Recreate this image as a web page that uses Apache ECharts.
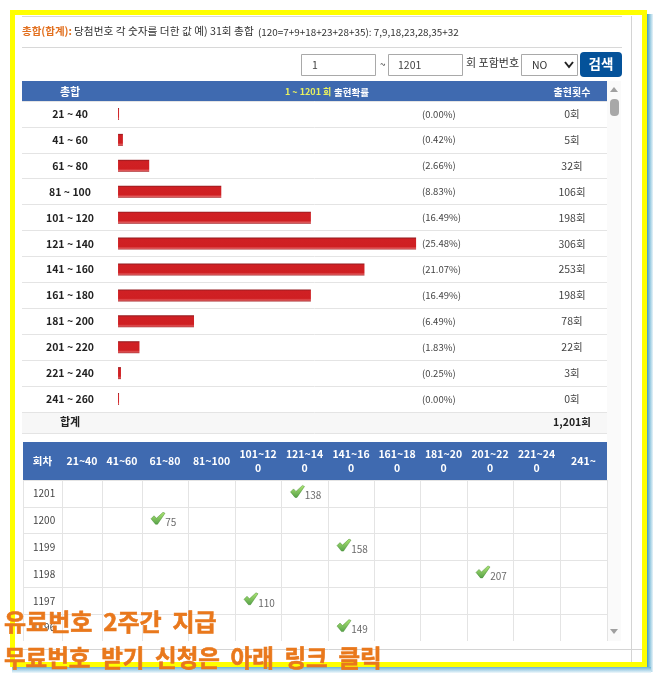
<!DOCTYPE html>
<html>
<head>
<meta charset="utf-8">
<style>html,body{margin:0;padding:0;background:#fff}#chart{width:658px;height:678px}</style>
<script src="https://cdn.jsdelivr.net/npm/echarts@6/dist/echarts.min.js"></script>
</head>
<body>
<div id="chart"></div>
<script>
// 총합 구간별 출현 데이터
const ranges = ['21 ~ 40', '41 ~ 60', '61 ~ 80', '81 ~ 100', '101 ~ 120', '121 ~ 140', '141 ~ 160', '161 ~ 180', '181 ~ 200', '201 ~ 220', '221 ~ 240', '241 ~ 260'];
const counts = [0, 5, 32, 106, 198, 306, 253, 198, 78, 22, 3, 0];
const percents = ['(0.00%)', '(0.42%)', '(2.66%)', '(8.83%)', '(16.49%)', '(25.48%)', '(21.07%)', '(16.49%)', '(6.49%)', '(1.83%)', '(0.25%)', '(0.00%)'];

// 회차별 총합 표
const columns = ['회차', '21~40', '41~60', '61~80', '81~100', '101~12\n0', '121~14\n0', '141~16\n0', '161~18\n0', '181~20\n0', '201~22\n0', '221~24\n0', '241~'];
const columnWidths = [39, 40, 40, 46, 47, 46, 47, 46, 46, 47, 46, 47, 47];
const rounds = ['1201', '1200', '1199', '1198', '1197', '1196'];
const roundSums = [138, 75, 158, 207, 110, 149];

const FONT = '"Noto Sans CJK KR", sans-serif';
const BLUE = '#3f6ab0';
const LINE = '#e4e4e4';
const CHECK = 'path://M0 6.5 L3 3.5 L5.5 6 L12 0 L14 1 L6.5 12 L4.5 12 Z';

// 표 칸 경계와 중심
const edges = [0];
columnWidths.forEach(w => edges.push(edges[edges.length - 1] + w));
const centers = columnWidths.map((w, i) => edges[i] + w / 2);

function rect(x, y, width, height, fill, z, r) {
  return { type: 'rect', shape: { x, y, width, height, r: r || 0 }, style: { fill }, z: z === undefined ? -1 : z, silent: true };
}
function box(x, y, width, height) {
  return { type: 'rect', shape: { x: x + 0.5, y: y + 0.5, width, height }, style: { fill: '#fff', stroke: '#a9a9a9', lineWidth: 1 }, z: -1 };
}
function line(x1, y1, x2, y2, stroke) {
  return { type: 'line', shape: { x1, y1, x2, y2 }, style: { stroke, lineWidth: 1 }, z: -1 };
}
function text(x, y, str, fontSize, fill, align, weight) {
  return { type: 'text', x, y, z: 5, style: { text: str, fontFamily: FONT, fontSize, fill, align: align || 'left', verticalAlign: 'middle', fontWeight: weight || 'normal' } };
}
function banner(x, y, str, fontSize) {
  return {
    type: 'text', x, y, z: 50,
    style: {
      text: str, fontFamily: FONT, fontSize, fontWeight: 'bold', fill: '#e9781c', verticalAlign: 'middle',
      stroke: '#e9781c', lineWidth: 0.6,
      shadowColor: 'rgba(50,40,20,0.9)', shadowBlur: 2, shadowOffsetX: 1, shadowOffsetY: 2
    }
  };
}

const graphics = [
  // 바깥 테두리
  { type: 'rect', shape: { x: 647, y: 14, width: 6, height: 658 }, z: -2, style: { fill: { type: 'linear', x: 0, y: 0, x2: 1, y2: 0, colorStops: [{ offset: 0, color: '#3f9cc4' }, { offset: 1, color: '#e8f4fa' }] } } },
  { type: 'rect', shape: { x: 12, y: 667, width: 639, height: 6 }, z: -2, style: { fill: { type: 'linear', x: 0, y: 0, x2: 0, y2: 1, colorStops: [{ offset: 0, color: '#6db4d6' }, { offset: 1, color: '#f0f8fc' }] } } },
  { type: 'rect', shape: { x: 12.5, y: 12.5, width: 632, height: 652 }, z: 40, style: { fill: 'none', stroke: '#ffff00', lineWidth: 5 } },
  line(22, 16.5, 622, 16.5, '#d8d8d8'),
  line(22, 47.5, 622, 47.5, '#d8d8d8'),
  line(631.5, 16, 631.5, 662, '#d4d4d4'),
  line(15, 649.5, 642, 649.5, '#d4d4d4'),

  // 안내문
  text(22, 31, '총합(합계):', 10.5, '#e2701f', 'left', 'bold'),
  text(74, 31, '당첨번호 각 숫자를 더한 값 예) 31회 총합', 10.7, '#333'),
  text(258, 32, '(120=7+9+18+23+28+35): 7,9,18,23,28,35+32', 9.9, '#333'),

  // 검색 영역
  box(301, 54, 74, 21),
  box(388, 54, 74, 21),
  text(312, 65, '1', 10.5, '#444'),
  text(380, 64, '~', 10, '#444'),
  text(398, 65, '1201', 10.5, '#444'),
  text(466, 63, '회 포함번호', 11, '#333'),
  box(521, 54, 56, 21),
  text(532, 65, 'NO', 10.5, '#333'),
  { type: 'polyline', shape: { points: [[565, 62], [569, 67], [573, 62]] }, style: { stroke: '#222', lineWidth: 2, fill: 'none' }, z: 5 },
  rect(580, 52, 42, 25, '#04529a', -1, 4),
  text(601, 64, '검색', 13.5, '#fff', 'center', 'bold'),

  // 상단 표 머리글과 합계
  rect(22, 81, 585, 20, BLUE),
  text(70, 91.5, '총합', 11, '#fff', 'center', 'bold'),
  text(285, 92, '1 ~ 1201 회', 9, '#e8f060', 'left', 'bold'),
  text(334, 92, '출현확률', 9.5, '#fff', 'left', 'bold'),
  text(572, 92, '출현횟수', 10, '#fff', 'center', 'bold'),
  rect(22, 412, 585, 21, '#f7f7f7'),
  text(70, 422, '합계', 11, '#222', 'center', 'bold'),
  text(572, 422, '1,201회', 10.5, '#222', 'center', 'bold'),
  line(22, 433.5, 607, 433.5, LINE),

  // 스크롤바
  rect(607, 81, 14, 560, '#fafafa'),
  { type: 'polygon', shape: { points: [[610, 92], [614, 87], [618, 92]] }, style: { fill: '#a0a0a0' }, z: 1 },
  rect(610, 99, 9, 17, '#a8a8a8', 1, 4),
  { type: 'polygon', shape: { points: [[610, 629], [614, 634], [618, 629]] }, style: { fill: '#a0a0a0' }, z: 1 },

  // 하단 표 머리글
  rect(23, 442, 584, 38, BLUE),

  banner(4, 622, '유료번호  2주간  지급', 24),
  banner(4, 658, '무료번호  받기  신청은  아래  링크  클릭', 23.5)
];

const chart = echarts.init(document.getElementById('chart'));
chart.setOption({
  animation: false,
  backgroundColor: '#fff',
  graphic: { elements: graphics },
  grid: [
    { left: 22, top: 101, width: 585, height: 311 },
    { left: 23, top: 480, width: 584, height: 161 }
  ],
  xAxis: [
    {
      gridIndex: 0, type: 'value', min: -98.6, max: 502,
      axisLine: { show: false }, axisTick: { show: false }, axisLabel: { show: false }, splitLine: { show: false }
    },
    {
      gridIndex: 1, type: 'value', min: 0, max: edges[edges.length - 1], position: 'top',
      axisLine: { show: false },
      axisTick: { show: false, customValues: edges },
      splitLine: { show: true, lineStyle: { color: LINE } },
      axisLabel: {
        show: true, customValues: centers, margin: 19, color: '#fff', fontFamily: FONT, fontSize: 10.5, fontWeight: 'bold',
        align: 'center', verticalAlign: 'middle', lineHeight: 14, hideOverlap: false,
        formatter: v => columns[centers.indexOf(v)]
      }
    }
  ],
  yAxis: [
    {
      gridIndex: 0, type: 'category', inverse: true, data: ranges,
      axisLine: { show: false }, axisTick: { show: false },
      splitLine: { show: true, lineStyle: { color: LINE } },
      axisLabel: { inside: true, margin: 48, align: 'center', interval: 0, color: '#222', fontFamily: FONT, fontSize: 10.5, fontWeight: 'bold' }
    },
    {
      gridIndex: 0, type: 'category', inverse: true, data: percents, position: 'left', offset: -400,
      axisLine: { show: false }, axisTick: { show: false }, splitLine: { show: false },
      axisLabel: { inside: true, margin: 0, align: 'left', interval: 0, color: '#444', fontFamily: FONT, fontSize: 9.5, padding: [0, 0, 4, 0] }
    },
    {
      gridIndex: 0, type: 'category', inverse: true, data: counts.map(c => c + '회'), position: 'left', offset: -550,
      axisLine: { show: false }, axisTick: { show: false }, splitLine: { show: false },
      axisLabel: { inside: true, margin: 0, align: 'center', interval: 0, color: '#444', fontFamily: FONT, fontSize: 10.5, padding: [0, 0, 2, 0] }
    },
    {
      gridIndex: 1, type: 'category', inverse: true, data: rounds,
      axisLine: { show: false }, axisTick: { show: false },
      splitLine: { show: true, showMaxLine: false, lineStyle: { color: LINE } },
      axisLabel: { inside: true, margin: 10, align: 'left', interval: 0, color: '#444', fontFamily: FONT, fontSize: 10 }
    }
  ],
  series: [
    {
      type: 'bar', xAxisIndex: 0, yAxisIndex: 0, data: counts, barWidth: 12, barMinHeight: 1,
      itemStyle: {
        color: {
          type: 'linear', x: 0, y: 0, x2: 0, y2: 1,
          colorStops: [
            { offset: 0, color: '#8f1a1e' }, { offset: 0.15, color: '#d02024' }, { offset: 0.75, color: '#cf1f22' },
            { offset: 0.9, color: '#e0585a' }, { offset: 1, color: '#a5282b' }
          ]
        }
      }
    },
    {
      // 총합이 속한 구간 칸에 체크 표시
      type: 'scatter', xAxisIndex: 1, yAxisIndex: 3, z: 4,
      data: roundSums.map((sum, i) => ({ value: [centers[Math.floor((sum - 1) / 20)], rounds[i]], sum })),
      symbol: CHECK, symbolSize: [14, 12], symbolOffset: [-7, -2],
      itemStyle: {
        borderColor: '#2a7a18', borderWidth: 0.5,
        color: {
          type: 'linear', x: 0, y: 0, x2: 0, y2: 1,
          colorStops: [{ offset: 0, color: '#9be050' }, { offset: 1, color: '#2d8a1c' }]
        }
      },
      label: {
        show: true, position: 'right', distance: 0, offset: [0, 4], color: '#444', fontFamily: FONT, fontSize: 10,
        formatter: p => p.data.sum
      }
    }
  ]
});
</script>
</body>
</html>
